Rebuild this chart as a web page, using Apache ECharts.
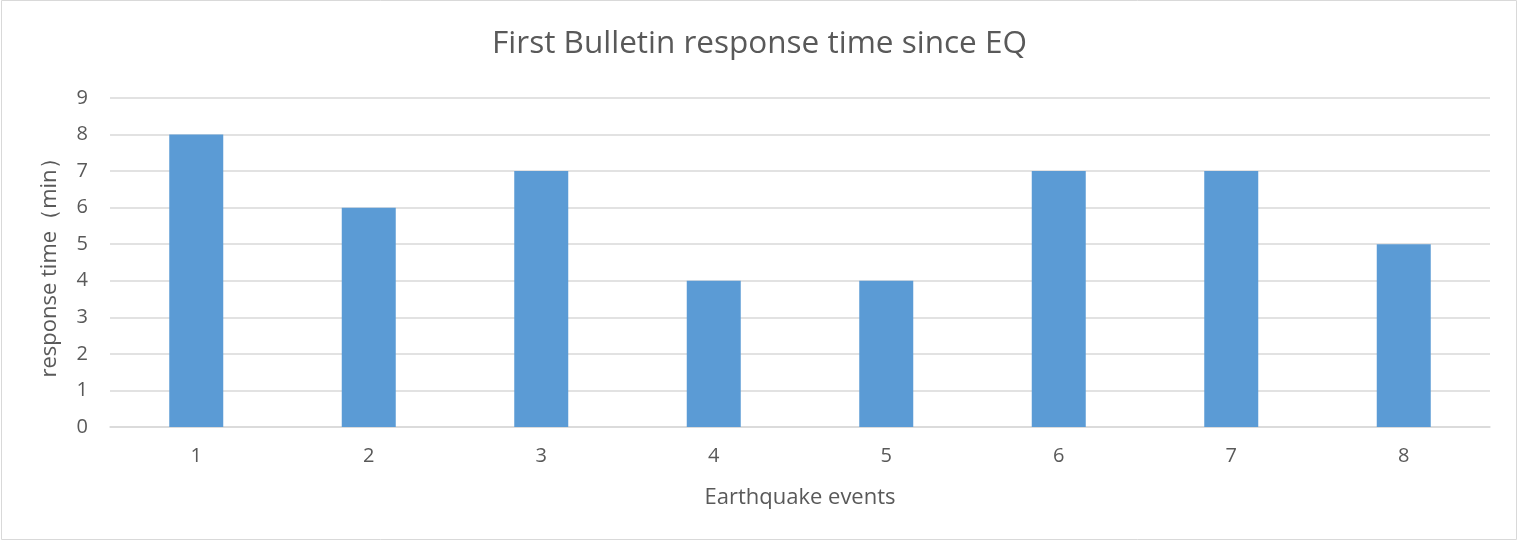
<!DOCTYPE html>
<html>
<head>
<meta charset="utf-8">
<title>First Bulletin response time since EQ</title>
<script src="https://cdn.jsdelivr.net/npm/echarts@6/dist/echarts.min.js"></script>
<style>
  html, body { margin: 0; padding: 0; background: #fff; }
  #chart { width: 1519px; height: 542px; }
</style>
</head>
<body>
<div id="chart"></div>
<script>
// data
const events = ['1', '2', '3', '4', '5', '6', '7', '8']
const responseTime = [8, 6, 7, 4, 4, 7, 7, 5]

const font = '"Open Sans", Lato, sans-serif'
const chart = echarts.init(document.getElementById('chart'))

chart.setOption({
  animation: false,
  textStyle: { fontFamily: font },
  title: {
    text: 'First Bulletin response time since EQ',
    left: 'center',
    top: 23,
    textStyle: { fontFamily: font, fontSize: 31.5, fontWeight: 'normal', color: '#595959' }
  },
  graphic: [{
    type: 'rect',
    shape: { x: 1.5, y: 0.5, width: 1515, height: 539 },
    style: { fill: 'none', stroke: '#D9D9D9', lineWidth: 1 },
    silent: true
  }],
  grid: { left: 110, right: 29, top: 98, bottom: 115 },
  xAxis: {
    type: 'category',
    data: events,
    name: 'Earthquake events',
    nameLocation: 'middle',
    nameGap: 60,
    nameTextStyle: { fontSize: 22, color: '#595959' },
    axisLine: { lineStyle: { color: '#D9D9D9', width: 1.5 } },
    axisTick: { show: false },
    axisLabel: { fontSize: 20, color: '#595959', margin: 19 }
  },
  yAxis: {
    type: 'value',
    min: 0,
    max: 9,
    interval: 1,
    name: 'response time（min）',
    nameLocation: 'middle',
    nameGap: 49,
    nameTextStyle: { fontSize: 22, color: '#595959' },
    axisLine: { show: false },
    axisTick: { show: false },
    axisLabel: { fontSize: 20, color: '#595959', margin: 22 },
    splitLine: { lineStyle: { color: '#D9D9D9', width: 1.5 } }
  },
  series: [{
    type: 'bar',
    data: responseTime,
    barWidth: 54,
    itemStyle: { color: '#5B9BD5' }
  }]
})
</script>
</body>
</html>
